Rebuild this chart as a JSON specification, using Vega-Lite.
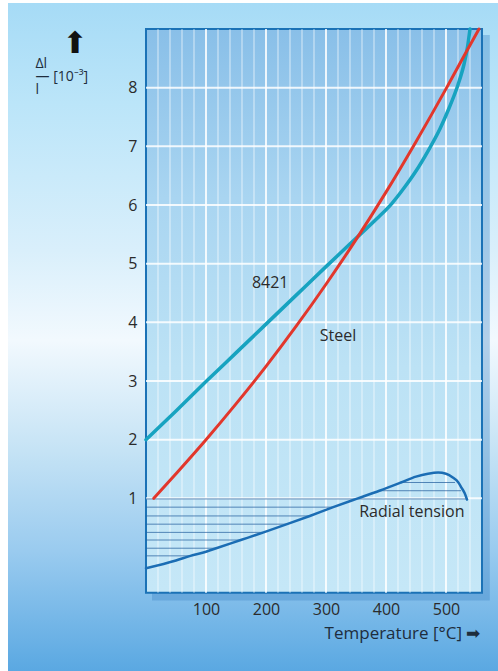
{
  "$schema": "https://vega.github.io/schema/vega-lite/v6.json",
  "width": 490,
  "height": 668,
  "autosize": {"type": "none"},
  "padding": {"left": 8, "top": 3, "right": 0, "bottom": 0},
  "background": "white",
  "view": {
    "stroke": null,
    "fill": {
      "gradient": "linear", "x1": 0, "y1": 0, "x2": 0, "y2": 1,
      "stops": [
        {"offset": 0, "color": "#a6dbf6"},
        {"offset": 0.15, "color": "#bbe5f9"},
        {"offset": 0.37, "color": "#d9effb"},
        {"offset": 0.505, "color": "#f2f9fe"},
        {"offset": 0.67, "color": "#c5e3f5"},
        {"offset": 0.82, "color": "#9acbef"},
        {"offset": 1, "color": "#5aa8e2"}
      ]
    }
  },
  "title": {"text": "⬆", "anchor": "start", "frame": "group", "align": "center", "baseline": "bottom", "offset": 0, "dx": 67, "dy": 86, "fontSize": 30, "fontWeight": "normal", "color": "#111111", "font": "DejaVu Sans"},
  "datasets": {
    "curves": [
      {"series": "8421", "T": 0, "v": 2.0},
      {"series": "8421", "T": 50, "v": 2.49},
      {"series": "8421", "T": 100, "v": 2.99},
      {"series": "8421", "T": 150, "v": 3.48},
      {"series": "8421", "T": 200, "v": 3.97},
      {"series": "8421", "T": 250, "v": 4.46},
      {"series": "8421", "T": 300, "v": 4.95},
      {"series": "8421", "T": 357, "v": 5.5},
      {"series": "8421", "T": 385, "v": 5.77},
      {"series": "8421", "T": 410, "v": 6.03},
      {"series": "8421", "T": 430, "v": 6.29},
      {"series": "8421", "T": 450, "v": 6.58},
      {"series": "8421", "T": 470, "v": 6.92},
      {"series": "8421", "T": 490, "v": 7.3},
      {"series": "8421", "T": 505, "v": 7.65},
      {"series": "8421", "T": 520, "v": 8.05},
      {"series": "8421", "T": 530, "v": 8.4},
      {"series": "8421", "T": 536, "v": 8.7},
      {"series": "8421", "T": 540, "v": 9.0},
      {"series": "Steel", "T": 13, "v": 1.0},
      {"series": "Steel", "T": 50, "v": 1.42},
      {"series": "Steel", "T": 100, "v": 2.0},
      {"series": "Steel", "T": 150, "v": 2.61},
      {"series": "Steel", "T": 200, "v": 3.25},
      {"series": "Steel", "T": 250, "v": 3.93},
      {"series": "Steel", "T": 300, "v": 4.65},
      {"series": "Steel", "T": 350, "v": 5.41},
      {"series": "Steel", "T": 400, "v": 6.22},
      {"series": "Steel", "T": 450, "v": 7.08},
      {"series": "Steel", "T": 500, "v": 7.98},
      {"series": "Steel", "T": 530, "v": 8.54},
      {"series": "Steel", "T": 555, "v": 9.0},
      {"series": "Radial tension", "T": 0, "v": -0.19},
      {"series": "Radial tension", "T": 50, "v": -0.06},
      {"series": "Radial tension", "T": 74, "v": 0.02},
      {"series": "Radial tension", "T": 100, "v": 0.09},
      {"series": "Radial tension", "T": 117, "v": 0.15},
      {"series": "Radial tension", "T": 158, "v": 0.29},
      {"series": "Radial tension", "T": 196, "v": 0.42},
      {"series": "Radial tension", "T": 235, "v": 0.56},
      {"series": "Radial tension", "T": 273, "v": 0.7},
      {"series": "Radial tension", "T": 312, "v": 0.85},
      {"series": "Radial tension", "T": 353, "v": 1.0},
      {"series": "Radial tension", "T": 389, "v": 1.13},
      {"series": "Radial tension", "T": 425, "v": 1.27},
      {"series": "Radial tension", "T": 450, "v": 1.37},
      {"series": "Radial tension", "T": 470, "v": 1.42},
      {"series": "Radial tension", "T": 487, "v": 1.44},
      {"series": "Radial tension", "T": 500, "v": 1.42},
      {"series": "Radial tension", "T": 512, "v": 1.35},
      {"series": "Radial tension", "T": 520, "v": 1.28},
      {"series": "Radial tension", "T": 526, "v": 1.18},
      {"series": "Radial tension", "T": 531, "v": 1.09},
      {"series": "Radial tension", "T": 535, "v": 0.98}
    ],
    "hatch": [
      {"v": 1.27, "from": 425, "to": 515},
      {"v": 1.13, "from": 389, "to": 525},
      {"v": 0.99, "from": 0, "to": 535},
      {"v": 0.85, "from": 0, "to": 312},
      {"v": 0.7, "from": 0, "to": 273},
      {"v": 0.56, "from": 0, "to": 235},
      {"v": 0.42, "from": 0, "to": 196},
      {"v": 0.29, "from": 0, "to": 158},
      {"v": 0.15, "from": 0, "to": 117},
      {"v": 0.02, "from": 0, "to": 74}
    ],
    "minorGrid": [
      {"T": 20}, {"T": 40}, {"T": 60}, {"T": 80},
      {"T": 120}, {"T": 140}, {"T": 160}, {"T": 180},
      {"T": 220}, {"T": 240}, {"T": 260}, {"T": 280},
      {"T": 320}, {"T": 340}, {"T": 360}, {"T": 380},
      {"T": 420}, {"T": 440}, {"T": 460}, {"T": 480},
      {"T": 520}, {"T": 540}
    ],
    "majorGrid": [{"T": 100}, {"T": 200}, {"T": 300}, {"T": 400}, {"T": 500}],
    "hGrid": [{"v": 1}, {"v": 2}, {"v": 3}, {"v": 4}, {"v": 5}, {"v": 6}, {"v": 7}, {"v": 8}],
    "labels": [
      {"label": "8421", "T": 207, "v": 4.67},
      {"label": "Steel", "T": 320, "v": 3.77},
      {"label": "Radial tension", "T": 443, "v": 0.77}
    ]
  },
  "layer": [
    {
      "data": {"values": [{}]},
      "mark": {"type": "rect", "fill": "#3a82c2", "opacity": 0.35},
      "encoding": {
        "x": {"datum": 10, "type": "quantitative", "scale": {"domain": [-230, 586.67], "nice": false, "zero": false}},
        "x2": {"datum": 573},
        "y": {"datum": -0.74, "type": "quantitative", "scale": {"domain": [-1.943, 9.444], "nice": false, "zero": false}},
        "y2": {"datum": 8.9}
      }
    },
    {
      "data": {"values": [{}]},
      "mark": {
        "type": "rect",
        "stroke": "#1b72b6",
        "strokeWidth": 2,
        "fill": {
          "gradient": "linear", "x1": 0, "y1": 0, "x2": 0, "y2": 1,
          "stops": [
            {"offset": 0, "color": "#89bfe8"},
            {"offset": 0.3, "color": "#a9d5f1"},
            {"offset": 0.6, "color": "#bce2f5"},
            {"offset": 1, "color": "#c5e7f7"}
          ]
        }
      },
      "encoding": {
        "x": {
          "datum": 0, "type": "quantitative",
          "scale": {"domain": [-230, 586.67], "nice": false, "zero": false},
          "axis": {
            "values": [100, 200, 300, 400, 500],
            "format": "d",
            "offset": -78,
            "labelPadding": 8,
            "title": "Temperature [°C] ➡",
            "titleX": 472, "titleY": 40, "titleAlign": "right", "titleBaseline": "middle", "titleAnchor": null
          }
        },
        "x2": {"datum": 560},
        "y": {
          "datum": -0.61, "type": "quantitative",
          "scale": {"domain": [-1.943, 9.444], "nice": false, "zero": false},
          "axis": {
            "values": [1, 2, 3, 4, 5, 6, 7, 8],
            "format": "d",
            "offset": -139,
            "labelPadding": 10,
            "title": ["Δl", "―\u00a0[10⁻³]", "\u00a0\u00a0l"],
            "titleAngle": 0, "titleX": -112, "titleY": 53, "titleAlign": "left", "titleBaseline": "top",
            "titleFontSize": 14, "titleLineHeight": 13, "titleAnchor": null
          }
        },
        "y2": {"datum": 9}
      }
    },
    {
      "data": {"name": "minorGrid"},
      "mark": {"type": "rule", "color": "white", "opacity": 0.45, "strokeWidth": 1.5},
      "encoding": {
        "x": {"field": "T", "type": "quantitative", "scale": {"domain": [-230, 586.67], "nice": false, "zero": false}},
        "y": {"datum": -0.61, "type": "quantitative", "scale": {"domain": [-1.943, 9.444], "nice": false, "zero": false}},
        "y2": {"datum": 9}
      }
    },
    {
      "data": {"name": "majorGrid"},
      "mark": {"type": "rule", "color": "white", "opacity": 0.85, "strokeWidth": 2},
      "encoding": {
        "x": {"field": "T", "type": "quantitative", "scale": {"domain": [-230, 586.67], "nice": false, "zero": false}},
        "y": {"datum": -0.61, "type": "quantitative", "scale": {"domain": [-1.943, 9.444], "nice": false, "zero": false}},
        "y2": {"datum": 9}
      }
    },
    {
      "data": {"name": "hGrid"},
      "mark": {"type": "rule", "color": "white", "opacity": 0.85, "strokeWidth": 2},
      "encoding": {
        "y": {"field": "v", "type": "quantitative", "scale": {"domain": [-1.943, 9.444], "nice": false, "zero": false}},
        "x": {"datum": 0, "type": "quantitative", "scale": {"domain": [-230, 586.67], "nice": false, "zero": false}},
        "x2": {"datum": 560}
      }
    },
    {
      "data": {"name": "hatch"},
      "mark": {"type": "rule", "color": "#2a63a0", "opacity": 0.75, "strokeWidth": 1},
      "encoding": {
        "y": {"field": "v", "type": "quantitative", "scale": {"domain": [-1.943, 9.444], "nice": false, "zero": false}},
        "x": {"field": "from", "type": "quantitative", "scale": {"domain": [-230, 586.67], "nice": false, "zero": false}},
        "x2": {"field": "to"}
      }
    },
    {
      "data": {"name": "curves"},
      "mark": {"type": "line", "interpolate": "monotone", "strokeCap": "round"},
      "encoding": {
        "x": {"field": "T", "type": "quantitative", "scale": {"domain": [-230, 586.67], "nice": false, "zero": false}},
        "y": {"field": "v", "type": "quantitative", "scale": {"domain": [-1.943, 9.444], "nice": false, "zero": false}},
        "color": {"field": "series", "type": "nominal", "scale": {"domain": ["8421", "Steel", "Radial tension"], "range": ["#17a3c0", "#e2372c", "#1b6db4"]}, "legend": null},
        "size": {"field": "series", "type": "nominal", "scale": {"domain": ["8421", "Steel", "Radial tension"], "range": [3.5, 2.5, 3]}, "legend": null},
        "detail": {"field": "series"}
      }
    },
    {
      "data": {"name": "labels"},
      "mark": {"type": "text", "font": "Open Sans", "fontSize": 16, "color": "#2b2b2b", "align": "center", "baseline": "middle"},
      "encoding": {
        "x": {"field": "T", "type": "quantitative", "scale": {"domain": [-230, 586.67], "nice": false, "zero": false}},
        "y": {"field": "v", "type": "quantitative", "scale": {"domain": [-1.943, 9.444], "nice": false, "zero": false}},
        "text": {"field": "label"}
      }
    }
  ],
  "config": {
    "font": "Open Sans",
    "axis": {
      "domain": false, "ticks": false, "grid": false,
      "labelFont": "Open Sans", "labelFontSize": 16, "labelColor": "#2b2b2b",
      "titleFont": "Open Sans", "titleFontSize": 17, "titleFontWeight": "normal", "titleColor": "#1e2d3d"
    }
  }
}
